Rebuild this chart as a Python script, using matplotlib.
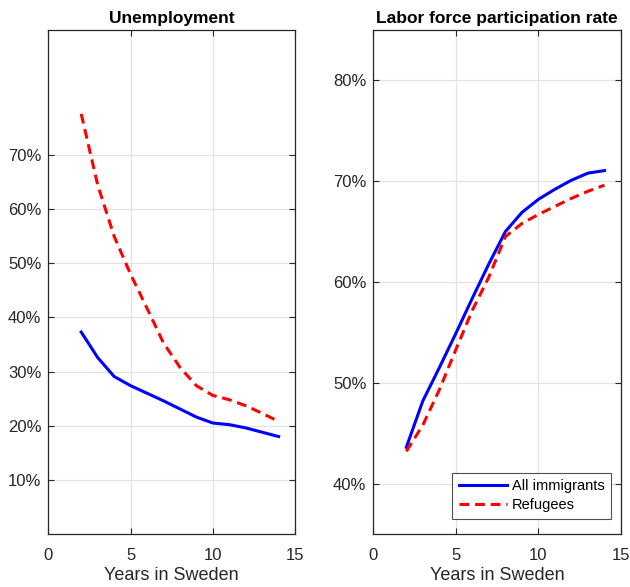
import matplotlib
matplotlib.use("Agg")
import matplotlib.pyplot as plt
from matplotlib.ticker import FuncFormatter

plt.rcParams['font.family'] = ['Liberation Sans', 'DejaVu Sans']

years = [2, 3, 4, 5, 6, 7, 8, 9, 10, 11, 12, 13, 14]

# Unemployment shares
unemp_all = [0.373, 0.326, 0.291, 0.274, 0.260, 0.246, 0.231, 0.216, 0.205, 0.202, 0.196, 0.188, 0.180]
unemp_ref = [0.776, 0.645, 0.550, 0.480, 0.417, 0.353, 0.308, 0.274, 0.256, 0.248, 0.237, 0.223, 0.208]

# Labor force participation rates
lfp_all = [0.436, 0.482, 0.515, 0.549, 0.584, 0.618, 0.650, 0.669, 0.682, 0.692, 0.701, 0.708, 0.7105]
lfp_ref = [0.432, 0.458, 0.493, 0.533, 0.572, 0.605, 0.645, 0.658, 0.667, 0.675, 0.683, 0.690, 0.696]

unemp_ticks = [0.1, 0.2, 0.3, 0.4, 0.5, 0.6, 0.7]
lfp_ticks = [0.4, 0.5, 0.6, 0.7, 0.8]
x_ticks = [0, 5, 10, 15]

TXT = '#262626'
GRID = '#e3e3e3'
pct = FuncFormatter(lambda v, _: f"{v * 100:.0f}%")

fig = plt.figure(figsize=(6.3, 5.87), dpi=100)
ax1 = fig.add_axes([0.0767, 0.0903, 0.3916, 0.8586])
ax2 = fig.add_axes([0.5925, 0.0903, 0.3932, 0.8586])


def style(ax, ylim, yticks, title):
    ax.set_xlim(0, 15)
    ax.set_ylim(*ylim)
    ax.set_xticks(x_ticks)
    ax.set_yticks(yticks)
    ax.yaxis.set_major_formatter(pct)
    ax.grid(True, color=GRID, linewidth=0.9)
    ax.set_axisbelow(True)
    ax.tick_params(direction='in', top=True, right=True, length=4,
                   width=0.8, colors=TXT, labelsize=12)
    ax.tick_params(axis='y', pad=5)
    ax.tick_params(axis='x', pad=10)
    for s in ax.spines.values():
        s.set_color(TXT)
        s.set_linewidth(0.9)
    ax.set_title(title, fontsize=12.5, fontweight='bold', color='black', pad=5)
    ax.set_xlabel('Years in Sweden', fontsize=13, color=TXT, labelpad=3)


def draw(ax, ya, yr):
    ax.plot(years, ya, color='#0000ff', linewidth=2.2, label='All immigrants')
    ax.plot(years, yr, color='#ff0000', linewidth=2.2, dashes=(3.2, 1.9),
            label='Refugees')


draw(ax1, unemp_all, unemp_ref)
style(ax1, (0, 0.931), unemp_ticks, 'Unemployment')

draw(ax2, lfp_all, lfp_ref)
style(ax2, (0.35, 0.85), lfp_ticks, 'Labor force participation rate')

leg = ax2.legend(loc='lower right', fontsize=10.5, frameon=True, fancybox=False,
                 borderpad=0.45, handlelength=3.3, handletextpad=0.35,
                 labelspacing=0.35, borderaxespad=0.0,
                 bbox_to_anchor=(0.96, 0.03))
leg.get_frame().set_edgecolor(TXT)
leg.get_frame().set_linewidth(0.8)
for t in leg.get_texts():
    t.set_color('black')

fig.savefig('out.png', dpi=100, facecolor='white')
